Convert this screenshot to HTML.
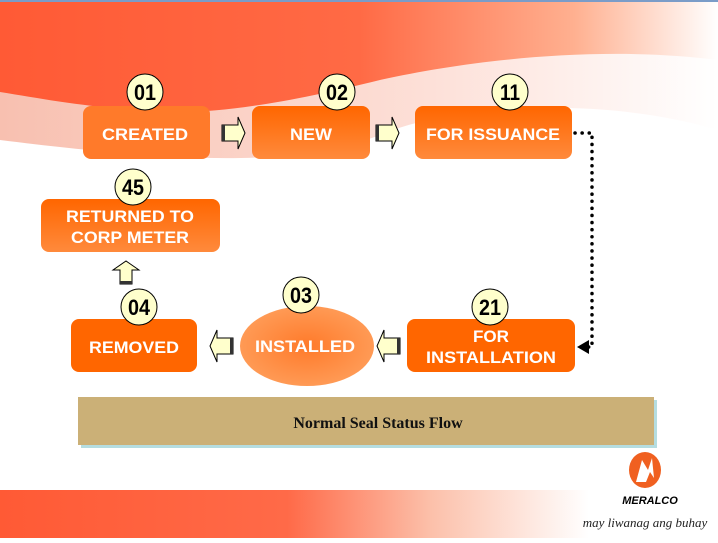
<!DOCTYPE html>
<html><head><style>
body{margin:0;width:718px;height:538px;overflow:hidden;background:#fff;font-family:"Liberation Sans",sans-serif}
</style></head><body>
<svg width="718" height="538" xmlns="http://www.w3.org/2000/svg">
<defs>
<linearGradient id="top" x1="0" x2="1" y1="0" y2="0">
<stop offset="0" stop-color="#ff5a35"/><stop offset="0.5" stop-color="#ff6a45"/><stop offset="0.8" stop-color="#ffb090"/><stop offset="1" stop-color="#ffffff"/></linearGradient>
<linearGradient id="pale" x1="0" x2="1" y1="0" y2="0">
<stop offset="0" stop-color="#f8c0b0"/><stop offset="0.6" stop-color="#fde0d8"/><stop offset="1" stop-color="#ffffff"/></linearGradient>
<linearGradient id="bot" x1="0" x2="1" y1="0" y2="0">
<stop offset="0" stop-color="#ff5a35"/><stop offset="0.4" stop-color="#ff6a48"/><stop offset="0.6" stop-color="#fcc0aa"/><stop offset="0.82" stop-color="#ffffff"/></linearGradient>
<linearGradient id="box" x1="0" x2="0" y1="0" y2="1">
<stop offset="0" stop-color="#ff6600"/><stop offset="1" stop-color="#ff8a3c"/></linearGradient>
<radialGradient id="ell"><stop offset="0" stop-color="#ff7a2a"/><stop offset="1" stop-color="#ff9a55"/></radialGradient>
</defs>
<rect x="0" y="0" width="718" height="2" fill="#7a9cc8"/>
<path d="M0 2 H718 V130 C600 95 450 105 380 135 C300 165 200 165 0 140 Z" fill="url(#pale)"/>
<path d="M0 2 H718 V60 C600 45 470 60 380 80 C300 100 230 112 180 112 C100 110 50 100 0 92 Z" fill="url(#top)"/>
<rect x="0" y="490" width="718" height="48" fill="url(#bot)"/>
<g font-weight="bold" font-size="17" fill="#fff" text-anchor="middle" lengthAdjust="spacingAndGlyphs">
<rect x="83" y="106" width="127" height="53" rx="8" fill="#ff7a2a"/>
<text x="145" y="140" textLength="86" lengthAdjust="spacingAndGlyphs">CREATED</text>
<rect x="252" y="106" width="118" height="53" rx="8" fill="url(#box)"/>
<text x="311" y="140" textLength="42" lengthAdjust="spacingAndGlyphs">NEW</text>
<rect x="415" y="106" width="157" height="53" rx="8" fill="url(#box)"/>
<text x="493" y="140" textLength="134" lengthAdjust="spacingAndGlyphs">FOR ISSUANCE</text>
<rect x="41" y="199" width="179" height="53" rx="8" fill="url(#box)"/>
<text x="130" y="222" textLength="128" lengthAdjust="spacingAndGlyphs">RETURNED TO</text><text x="130" y="243" textLength="118" lengthAdjust="spacingAndGlyphs">CORP METER</text>
<rect x="71" y="319" width="126" height="53" rx="8" fill="#ff6600"/>
<text x="134" y="353" textLength="90" lengthAdjust="spacingAndGlyphs">REMOVED</text>
<ellipse cx="307" cy="346" rx="67" ry="40" fill="url(#ell)"/>
<text x="305" y="352" textLength="100" lengthAdjust="spacingAndGlyphs">INSTALLED</text>
<rect x="407" y="319" width="168" height="53" rx="8" fill="#ff6600"/>
<text x="491" y="342" textLength="36" lengthAdjust="spacingAndGlyphs">FOR</text><text x="491" y="363" textLength="130" lengthAdjust="spacingAndGlyphs">INSTALLATION</text>
</g>
<g fill="#ffffcc" stroke="#000" stroke-width="1">
<path d="M222 125 H238 V117 L245 133 L238 149 V141 H222 Z"/>
<path d="M376 125 H392 V117 L399 133 L392 149 V141 H376 Z"/>
<path d="M233 338 H217 V330 L210 346 L217 362 V354 H233 Z"/>
<path d="M400 338 H384 V330 L377 346 L384 362 V354 H400 Z"/>
<path d="M120 284 V270 H113 L126 261 L139 270 H132 V284 Z"/>
</g>
<g fill="#333">
<rect x="222" y="125" width="3" height="16"/><rect x="376" y="125" width="3" height="16"/>
<rect x="230" y="338" width="3" height="16"/><rect x="397" y="338" width="3" height="16"/>
<rect x="120" y="281" width="12" height="3"/>
</g>
<path d="M575 133 H592 V347 H588" fill="none" stroke="#000" stroke-width="3.5" stroke-dasharray="0.1 7" stroke-linecap="round"/>
<path d="M577 347 L589 340 L589 354 Z" fill="#000"/>
<g fill="#ffffcc" stroke="#000" stroke-width="1">
<circle cx="145" cy="92" r="18"/><circle cx="337" cy="92" r="18"/><circle cx="510" cy="92" r="18"/>
<circle cx="133" cy="187" r="18"/><circle cx="139" cy="307" r="18"/><circle cx="301" cy="295" r="18"/><circle cx="490" cy="307" r="18"/>
</g>
<g font-weight="bold" font-size="22" fill="#000" text-anchor="middle">
<text x="145" y="100" textLength="22" lengthAdjust="spacingAndGlyphs">01</text><text x="337" y="100" textLength="22" lengthAdjust="spacingAndGlyphs">02</text><text x="510" y="100" textLength="20" lengthAdjust="spacingAndGlyphs">11</text>
<text x="133" y="195" textLength="22" lengthAdjust="spacingAndGlyphs">45</text><text x="139" y="315" textLength="22" lengthAdjust="spacingAndGlyphs">04</text><text x="301" y="303" textLength="22" lengthAdjust="spacingAndGlyphs">03</text><text x="490" y="315" textLength="22" lengthAdjust="spacingAndGlyphs">21</text>
</g>
<rect x="81" y="400" width="576" height="48" fill="#b5dde0"/>
<rect x="78" y="397" width="576" height="48" fill="#cbb077"/>
<text x="378" y="428" text-anchor="middle" font-family="Liberation Serif,serif" font-weight="bold" font-size="16" fill="#111">Normal Seal Status Flow</text>
<ellipse cx="645" cy="470" rx="16" ry="18" fill="#f06020"/>
<path d="M636 482 L642 460 L648 470 L652 458 L654 478 L650 472 L646 482 Z" fill="#fff"/>
<text x="650" y="504" text-anchor="middle" font-weight="bold" font-style="italic" font-size="11" fill="#000">MERALCO</text>
<text x="645" y="527" text-anchor="middle" font-family="Liberation Serif,serif" font-style="italic" font-size="13" fill="#222">may liwanag ang buhay</text>
</svg>
</body></html>
